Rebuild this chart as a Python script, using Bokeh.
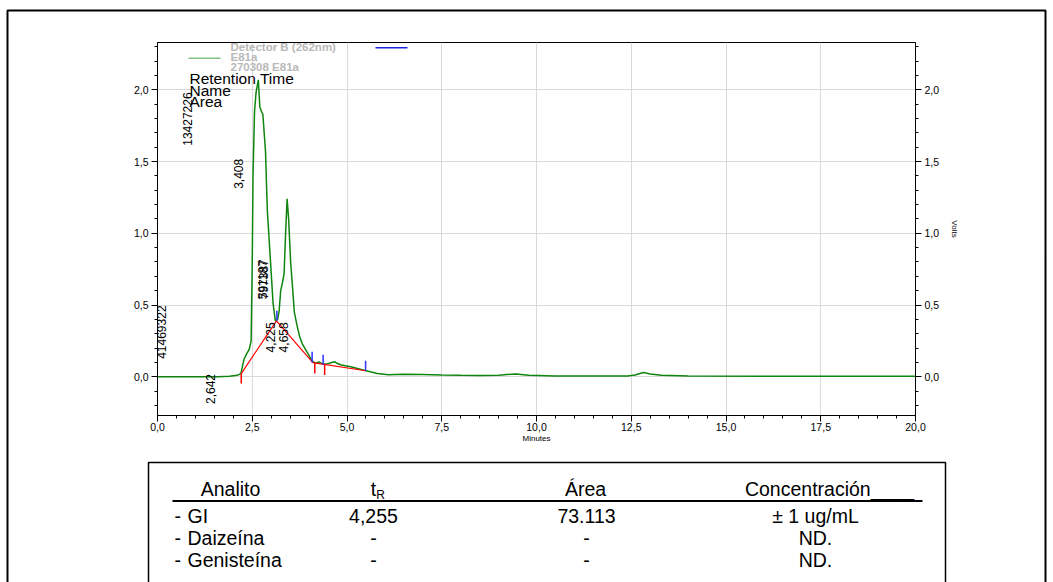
import math
from bokeh.plotting import figure
from bokeh.models import (LinearAxis, SingleIntervalTicker, CustomJSTickFormatter,
                          Label, BoxAnnotation, Range1d)
from bokeh.core.properties import value
from bokeh.embed import file_html
from bokeh.resources import INLINE

# ---------------- data ----------------
time_min = [0.0, 1.0, 1.6, 1.9, 2.1, 2.2, 2.28, 2.35, 2.42, 2.47, 2.50, 2.52, 2.56, 2.60,
            2.66, 2.70, 2.74, 2.78, 2.85, 2.88, 2.90, 2.98, 3.05, 3.11, 3.17, 3.21, 3.25,
            3.30, 3.34, 3.38, 3.42, 3.46, 3.51, 3.57, 3.61, 3.68, 3.75, 3.82, 3.95, 4.08,
            4.17, 4.26, 4.35, 4.45, 4.60, 4.67, 4.75, 4.85, 5.10, 5.45, 5.80, 6.10, 6.50,
            7.00, 7.50, 8.00, 8.50, 9.00, 9.45, 9.80, 10.5, 11.5, 12.4, 12.6, 12.82, 13.0,
            13.3, 14.0, 16.0, 18.0, 20.0]
volts = [0.0, 0.0, 0.0, 0.003, 0.01, 0.022, 0.12, 0.16, 0.19, 0.25, 0.80, 1.40, 1.85, 1.98,
         2.07, 1.88, 1.85, 1.83, 1.57, 1.31, 1.15, 0.81, 0.51, 0.39, 0.40, 0.46, 0.60,
         0.66, 0.72, 1.00, 1.24, 1.10, 0.81, 0.60, 0.45, 0.36, 0.28, 0.23, 0.17, 0.11,
         0.093, 0.104, 0.09, 0.088, 0.10, 0.105, 0.092, 0.082, 0.07, 0.046, 0.023, 0.014, 0.018,
         0.016, 0.012, 0.010, 0.009, 0.011, 0.020, 0.010, 0.006, 0.005, 0.006, 0.012, 0.030, 0.020,
         0.010, 0.006, 0.004, 0.004, 0.004]

baseline_t = [2.21, 3.14, 4.10, 5.49]
baseline_v = [0.022, 0.39, 0.098, 0.042]

start_mark_t = [2.21, 4.15, 4.41]
start_mark_top = [0.022, 0.095, 0.088]
start_mark_bot = [-0.047, 0.023, 0.012]

end_mark_t = [3.15, 4.08, 4.37, 5.49]
end_mark_bot = [0.39, 0.10, 0.084, 0.042]
end_mark_top = [0.46, 0.174, 0.153, 0.111]

peak_labels = ["13427226", "3,408", "41469322", "2,642", "591187", "797387", "4,225", "4,658"]
peak_label_t = [0.79, 2.14, 0.105, 1.40, 2.76, 2.80, 2.98, 3.32]
peak_label_v = [1.61, 1.31, 0.125, -0.19, 0.54, 0.54, 0.17, 0.17]

legend_texts = ["Detector B (262nm)", "E81a", "270308 E81a"]
info_texts = ["Retention Time", "Name", "Area"]

table_header = ["Analito", "t", "Área", "Concentración____"]
table_analytes = ["GI", "Daizeína", "Genisteína"]
table_tr = ["4,255", "-", "-"]
table_area = ["73.113", "-", "-"]
table_conc = ["± 1 ug/mL", "ND.", "ND."]

FONT = "Liberation Sans"
TFONT = "Liberation Sans Narrow, Liberation Sans, sans-serif"

# ---------------- chromatogram figure ----------------
p = figure(width=1053, height=582, x_range=Range1d(0, 20), y_range=Range1d(-0.27, 2.33),
           output_backend="svg", toolbar_location=None,
           min_border_left=157, min_border_right=138, min_border_top=42, min_border_bottom=167)
p.outline_line_color = "black"
p.outline_line_width = 1
p.background_fill_color = "white"
p.border_fill_color = "white"

fmt = CustomJSTickFormatter(code="return tick.toFixed(1).replace('.', ',');")
xt = SingleIntervalTicker(interval=2.5, num_minor_ticks=5)
yt = SingleIntervalTicker(interval=0.5, num_minor_ticks=5)

right_axis = LinearAxis(axis_label="Volts")
p.add_layout(right_axis, "right")

for ax in [p.xaxis[0], p.yaxis[0], right_axis]:
    ax.formatter = fmt
    ax.axis_line_color = "black"
    ax.major_tick_line_color = "black"
    ax.minor_tick_line_color = "black"
    ax.major_tick_out = 6
    ax.major_tick_in = 0
    ax.minor_tick_out = 3
    ax.minor_tick_in = 0
    ax.major_label_text_font = FONT
    ax.major_label_text_font_size = "10.5px"
    ax.major_label_text_color = "black"
    ax.axis_label_text_font = FONT
    ax.axis_label_text_font_size = "8px"
    ax.axis_label_text_font_style = "normal"
    ax.axis_label_text_color = "black"
    ax.major_label_standoff = 3
p.xaxis[0].ticker = xt
p.yaxis[0].ticker = yt
right_axis.ticker = yt
p.xaxis[0].axis_label = "Minutes"
p.xaxis[0].major_label_standoff = 1
p.xaxis[0].axis_label_standoff = 0
right_axis.axis_label_standoff = 8

p.xgrid.ticker = xt
p.ygrid.ticker = yt
p.xgrid.grid_line_color = "#d9d9d9"
p.ygrid.grid_line_color = "#d9d9d9"

p.line(time_min, volts, line_color="#0f850f", line_width=1.5)
p.line(baseline_t, baseline_v, line_color="#ff0000", line_width=1.2)
p.segment(x0=start_mark_t, y0=start_mark_top, x1=start_mark_t, y1=start_mark_bot,
          line_color="#ff0000", line_width=1.5)
p.segment(x0=end_mark_t, y0=end_mark_bot, x1=end_mark_t, y1=end_mark_top,
          line_color="#3030ff", line_width=1.5)

for txt, t, v in zip(peak_labels, peak_label_t, peak_label_v):
    p.add_layout(Label(x=t, y=v, text=txt, angle=math.pi / 2, text_align="left",
                       text_baseline="middle", text_font=FONT, text_font_size="12px",
                       text_color="black"))

def clabel(x, y, text, size, align="left", color="black", style="normal"):
    p.add_layout(Label(x=x, y=y, x_units="canvas", y_units="canvas", text=text,
                       text_align=align, text_baseline="middle", text_font=FONT,
                       text_font_size=size, text_color=color, text_font_style=style))

def cbox(l, r, t, b, fill):
    p.add_layout(BoxAnnotation(left=l, right=r, top=t, bottom=b,
                               left_units="canvas", right_units="canvas",
                               top_units="canvas", bottom_units="canvas",
                               fill_color=fill, fill_alpha=1, line_alpha=0, level="overlay"))

for i, txt in enumerate(legend_texts):
    clabel(230, 46 + 10 * i, txt, "11.5px", color="#b8b8b8", style="bold")
cbox(375, 407, 46.5, 48, "#2020e0")
cbox(188, 220, 57, 58.5, "#80c480")
for i, txt in enumerate(info_texts):
    clabel(189, 78 + 11.5 * i, txt, "15.5px")

# ---------------- page frame + table (transparent overlay, own root) ----------------
bg = figure(width=1053, height=582, x_range=Range1d(0, 1053), y_range=Range1d(582, 0),
            x_axis_type=None, y_axis_type=None, output_backend="svg", toolbar_location=None,
            min_border=0)
bg.grid.visible = False
bg.outline_line_color = None
bg.background_fill_alpha = 0
bg.border_fill_alpha = 0
bg.styles = {"position": "absolute", "top": "0px", "left": "0px"}

bg.quad(left=[7], right=[1045], top=[10], bottom=[640], fill_alpha=0,
        line_color="black", line_width=2)
bg.quad(left=[148], right=[945], top=[462], bottom=[640], fill_alpha=0,
        line_color="black", line_width=1.5)
bg.segment(x0=[172], y0=[500.5], x1=[922], y1=[500.5], line_color="black", line_width=2)

def ttext(xs, ys, texts, size="19.5px", align="center"):
    bg.text(x=xs, y=ys, text=texts, text_font=value(TFONT), text_font_size=size,
            text_align=align, text_baseline="middle", text_color="black")

ttext([230, 373, 585, 829], [488] * 4, table_header)
ttext([380], [494], ["R"], size="12px")
row_y = [515, 537, 559]
ttext([174] * 3, row_y, ["-"] * 3, align="left")
ttext([187] * 3, row_y, table_analytes, align="left")
ttext([373] * 3, row_y, table_tr)
ttext([586] * 3, row_y, table_area)
ttext([815] * 3, row_y, table_conc)

open("out.html", "w").write(file_html([p, bg], INLINE))
